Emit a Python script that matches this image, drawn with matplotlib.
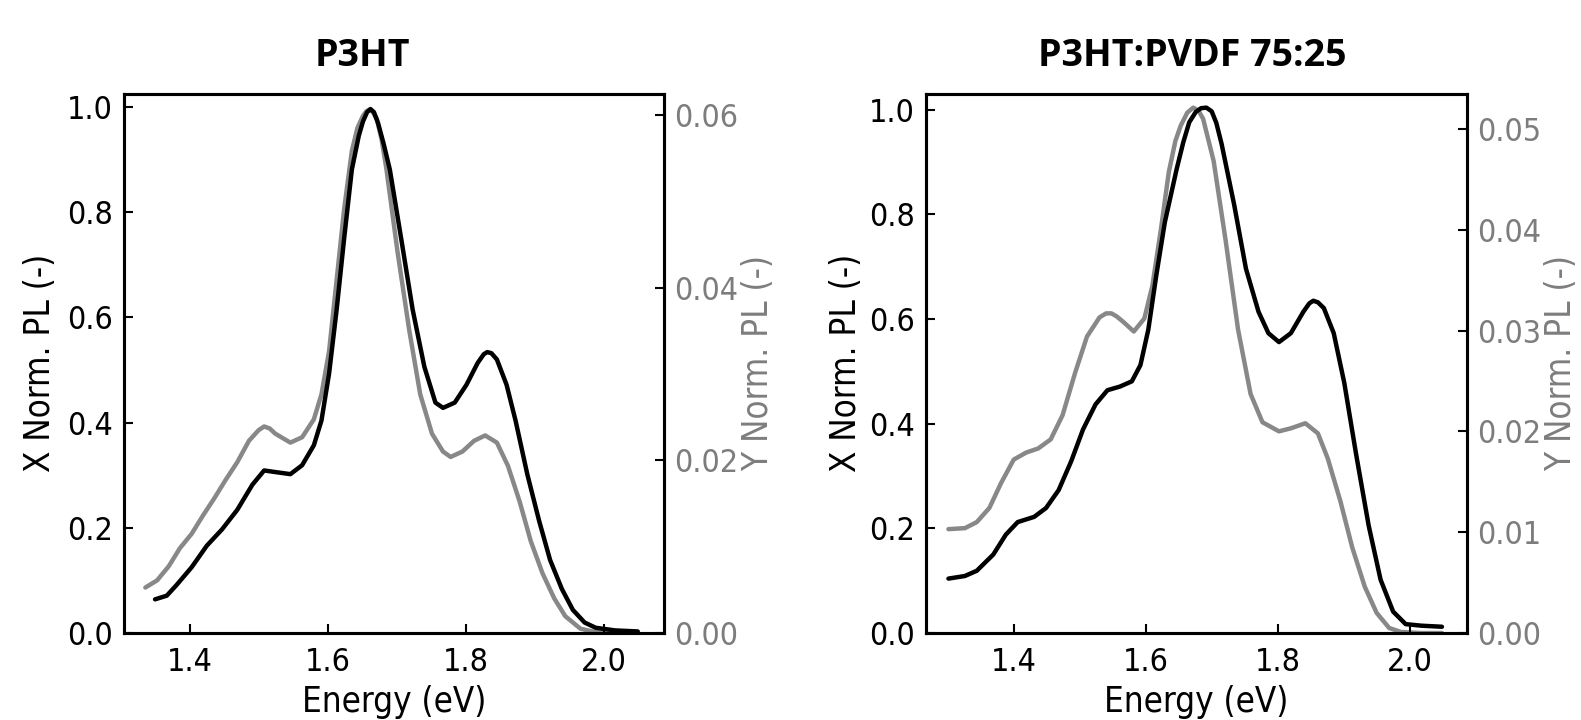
import matplotlib
matplotlib.use("Agg")
import matplotlib.pyplot as plt
import matplotlib.font_manager as fm

# the reference text is a narrow Verdana-like face; use DejaVu Sans Condensed if it is there
cond = [f for f in fm.fontManager.ttflist if 'DejaVuSansCondensed.ttf' in f.fname]
if cond:
    plt.rcParams['font.family'] = [cond[0].name, 'DejaVu Sans']
    plt.rcParams['font.stretch'] = cond[0].stretch
    TICK_FS, LABEL_FS = 23, 25
else:
    plt.rcParams['font.family'] = ['DejaVu Sans']
    TICK_FS, LABEL_FS = 21, 23

# P3HT panel: black = X (left axis), gray = Y (right axis)
e1_x = [1.350, 1.367, 1.381, 1.403, 1.425, 1.447, 1.469, 1.491, 1.508, 1.524,
        1.546, 1.563, 1.580, 1.591, 1.602, 1.613, 1.624, 1.635, 1.645, 1.651,
        1.657, 1.662, 1.667, 1.673, 1.681, 1.690, 1.707, 1.723, 1.740, 1.756,
        1.767, 1.784, 1.801, 1.817, 1.826, 1.831, 1.837, 1.845, 1.859, 1.872,
        1.889, 1.906, 1.922, 1.939, 1.955, 1.972, 1.988, 2.016, 2.049]
pl1_x = [0.064, 0.071, 0.091, 0.125, 0.166, 0.197, 0.234, 0.282, 0.309, 0.306,
         0.302, 0.319, 0.357, 0.404, 0.493, 0.615, 0.752, 0.881, 0.945, 0.972,
         0.990, 0.996, 0.990, 0.969, 0.930, 0.881, 0.745, 0.615, 0.506, 0.438,
         0.428, 0.438, 0.472, 0.513, 0.530, 0.534, 0.532, 0.520, 0.472, 0.404,
         0.302, 0.214, 0.139, 0.084, 0.044, 0.020, 0.010, 0.005, 0.003]

e1_y = [1.336, 1.353, 1.370, 1.386, 1.403, 1.419, 1.436, 1.452, 1.469, 1.486,
        1.500, 1.508, 1.516, 1.524, 1.546, 1.563, 1.580, 1.591, 1.602, 1.613,
        1.624, 1.635, 1.643, 1.651, 1.656, 1.660, 1.665, 1.671, 1.678, 1.685,
        1.701, 1.718, 1.734, 1.751, 1.767, 1.778, 1.795, 1.812, 1.828, 1.845,
        1.861, 1.878, 1.894, 1.911, 1.928, 1.944, 1.966, 1.988, 2.016, 2.049]
pl1_y = [0.00527, 0.00610, 0.00775, 0.00983, 0.01149, 0.01356, 0.01563, 0.01771,
         0.01978, 0.02227, 0.02350, 0.02393, 0.02370, 0.02310, 0.02206, 0.02268,
         0.02476, 0.02766, 0.03263, 0.04093, 0.04922, 0.05585, 0.05850, 0.05990,
         0.06045, 0.06062, 0.06040, 0.05958, 0.05720, 0.05378, 0.04424, 0.03512,
         0.02766, 0.02310, 0.02102, 0.02040, 0.02102, 0.02227, 0.02289, 0.02206,
         0.01937, 0.01522, 0.01066, 0.00693, 0.00402, 0.00195, 0.0005, 0.0001,
         0.0, 0.0]

# P3HT:PVDF 75:25 panel
e2_x = [1.301, 1.326, 1.344, 1.369, 1.388, 1.406, 1.431, 1.449, 1.468, 1.487,
        1.505, 1.524, 1.542, 1.561, 1.579, 1.592, 1.604, 1.616, 1.629, 1.647,
        1.657, 1.666, 1.676, 1.684, 1.692, 1.700, 1.707, 1.715, 1.734, 1.752,
        1.771, 1.786, 1.802, 1.820, 1.839, 1.848, 1.854, 1.861, 1.870, 1.885,
        1.901, 1.919, 1.938, 1.956, 1.975, 1.994, 2.018, 2.049]
pl2_x = [0.104, 0.109, 0.119, 0.150, 0.188, 0.212, 0.222, 0.239, 0.273, 0.328,
         0.389, 0.437, 0.464, 0.471, 0.481, 0.512, 0.580, 0.683, 0.785, 0.887,
         0.938, 0.976, 0.996, 1.003, 1.004, 0.997, 0.975, 0.935, 0.819, 0.696,
         0.614, 0.573, 0.556, 0.573, 0.614, 0.630, 0.635, 0.632, 0.621, 0.573,
         0.478, 0.341, 0.205, 0.102, 0.041, 0.017, 0.014, 0.012]

e2_y = [1.301, 1.326, 1.344, 1.363, 1.381, 1.400, 1.419, 1.437, 1.456, 1.474,
        1.493, 1.511, 1.530, 1.540, 1.548, 1.556, 1.567, 1.582, 1.598, 1.610,
        1.623, 1.635, 1.645, 1.653, 1.663, 1.672, 1.680, 1.687, 1.703, 1.721,
        1.740, 1.759, 1.777, 1.802, 1.820, 1.842, 1.861, 1.876, 1.895, 1.913,
        1.932, 1.950, 1.969, 1.987, 2.018, 2.049]
pl2_y = [0.0103, 0.0104, 0.0110, 0.0124, 0.0149, 0.0172, 0.0179, 0.0183, 0.0192,
         0.0216, 0.0258, 0.0294, 0.0313, 0.0317, 0.0317, 0.0314, 0.0308, 0.0299,
         0.0312, 0.0344, 0.0400, 0.0457, 0.0488, 0.0503, 0.0516, 0.0521, 0.0518,
         0.0510, 0.0468, 0.0390, 0.0301, 0.0237, 0.0209, 0.0200, 0.0203, 0.0208,
         0.0198, 0.0173, 0.0131, 0.0085, 0.0046, 0.0020, 0.0005, 0.0001, 0.0, 0.0]

GRAY = '#888888'
LABEL_GRAY = '#7d7d7d'

fig = plt.figure(figsize=(15.81, 7.2), dpi=100)


def panel(rect, ex, px, ey, py, xlim, ylims, rticks, title, title_x, lpad, rpad):
    ax = fig.add_axes(rect)
    ax2 = ax.twinx()
    ax.plot(ex, px, color='black', lw=3.2, solid_joinstyle='round',
            solid_capstyle='round')
    ax2.plot(ey, py, color=GRAY, lw=3.2, solid_joinstyle='round',
             solid_capstyle='round')
    ax.set_zorder(ax2.get_zorder() + 1)
    ax.patch.set_visible(False)

    ax.set_xlim(*xlim)
    ax.set_ylim(0, ylims[0])
    ax2.set_ylim(0, ylims[1])
    ax.set_xticks([1.4, 1.6, 1.8, 2.0])
    ax.set_xticklabels(['1.4', '1.6', '1.8', '2.0'])
    ax.set_yticks([0, 0.2, 0.4, 0.6, 0.8, 1.0])
    ax.set_yticklabels(['0.0', '0.2', '0.4', '0.6', '0.8', '1.0'])
    ax2.set_yticks(rticks)
    ax2.set_yticklabels(['%.2f' % t for t in rticks])

    for a in (ax, ax2):
        for s in a.spines.values():
            s.set_linewidth(2.2)
    ax.tick_params(axis='both', direction='in', length=6.5, width=1.5,
                   labelsize=TICK_FS, top=False, right=False)
    ax.tick_params(axis='x', pad=10)
    ax.tick_params(axis='y', pad=8)
    ax2.tick_params(axis='y', direction='in', length=6.5, width=1.5,
                    labelsize=TICK_FS, labelcolor=LABEL_GRAY, pad=7)

    ax.set_xlabel('Energy (eV)', fontsize=LABEL_FS, labelpad=5)
    ax.set_ylabel('X Norm. PL (-)', fontsize=LABEL_FS, labelpad=lpad)
    ax2.set_ylabel('Y Norm. PL (-)', fontsize=LABEL_FS, color=LABEL_GRAY,
                   labelpad=rpad)

    fig.text(title_x, 0.922, title, ha='center', va='center', fontsize=27,
             fontweight='bold', family=['Open Sans', 'DejaVu Sans'],
             stretch='normal')
    return ax


panel([0.0784, 0.1208, 0.3416, 0.7493], e1_x, pl1_x, e1_y, pl1_y,
      (1.305, 2.087), (1.0255, 0.0625), [0, 0.02, 0.04, 0.06],
      'P3HT', 0.229, 7, 2)
panel([0.5857, 0.1208, 0.3422, 0.7493], e2_x, pl2_x, e2_y, pl2_y,
      (1.267, 2.087), (1.031, 0.0535), [0, 0.01, 0.02, 0.03, 0.04, 0.05],
      'P3HT:PVDF 75:25', 0.754, 4, 2)

fig.savefig('out.png', dpi=100)
